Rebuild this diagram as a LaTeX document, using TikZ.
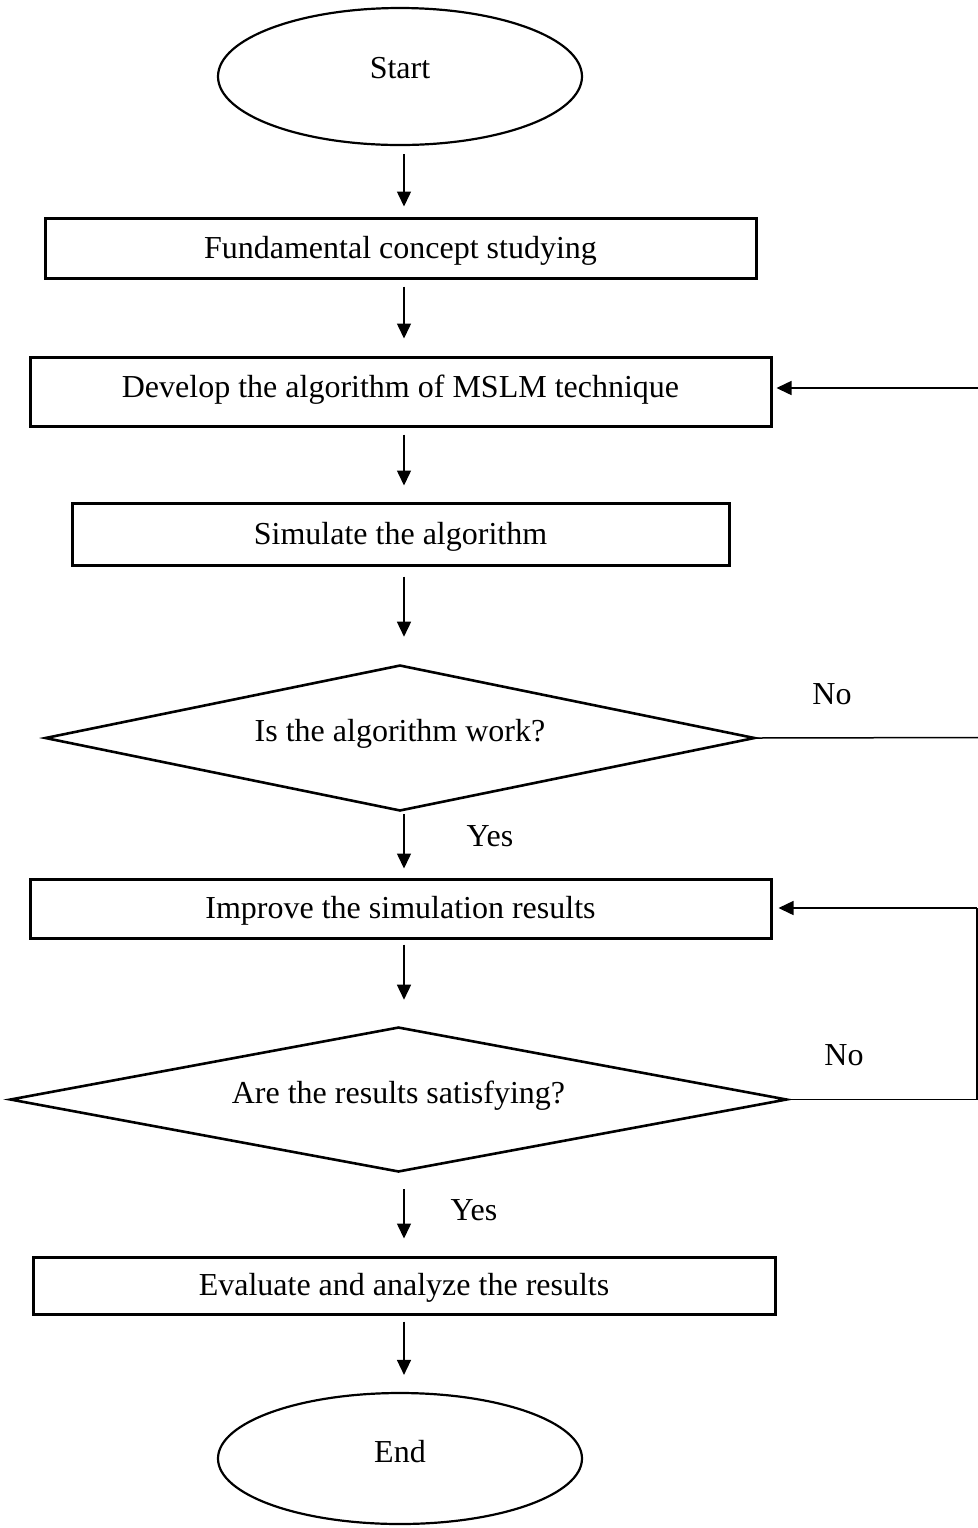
\documentclass[tikz,border=0pt]{standalone}
\usepackage{fontspec}
\setmainfont{Liberation Serif}
\usetikzlibrary{shapes.geometric,arrows.meta}

\begin{document}
\begin{tikzpicture}[x=0.5pt,y=-0.5pt,
  every node/.style={font=\fontsize{16pt}{19pt}\selectfont},
  fixedline/.style={text height=13pt,text depth=3pt},
  terminal/.style={ellipse,draw,line width=1.1pt,inner sep=0pt,
    minimum width=182pt,fixedline},
  stepbox/.style={rectangle,draw,line width=1.5pt,inner sep=0pt,fixedline},
  decision/.style={diamond,draw,line width=1.3pt,inner sep=0pt,aspect=5,fixedline},
  conn/.style={line width=0.75pt},
  arr/.style={conn,-{Triangle[length=7.5pt,width=7pt]}},
  lbl/.style={inner sep=0pt}]
\useasboundingbox (0,0) rectangle (978,1528);

% main column
\node[terminal,minimum height=68.5pt] (start) at (400,76.5) {\raisebox{4.25pt}{Start}};
\node[stepbox,minimum width=355.5pt,minimum height=30pt] (f1) at (400.5,248)
  {Fundamental concept studying};
\node[stepbox,minimum width=370.5pt,minimum height=34.5pt] (f2) at (400.5,391.5)
  {\raisebox{2pt}{Develop the algorithm of MSLM technique}};
\node[stepbox,minimum width=328.5pt,minimum height=31pt] (f3) at (400.5,534)
  {Simulate the algorithm};
\node[decision,minimum width=355pt,minimum height=73pt] (d1) at (400,738)
  {\raisebox{3.5pt}{Is the algorithm work?}};
\node[stepbox,minimum width=370.5pt,minimum height=29.5pt] (f4) at (400.5,908.5)
  {Improve the simulation results};
\node[decision,minimum width=388.5pt,minimum height=72.5pt] (d2) at (398.5,1099.5)
  {\raisebox{3.25pt}{Are the results satisfying?}};
\node[stepbox,minimum width=371pt,minimum height=28.5pt] (f5) at (404,1285.5)
  {Evaluate and analyze the results};
\node[terminal,minimum height=65.5pt] (end) at (400,1458.5) {\raisebox{3.25pt}{End}};

% branch labels
\node[lbl] (yes1) at (490,836) {Yes};
\node[lbl] (yes2) at (474,1210) {Yes};
\node[lbl] (no1) at (832,694) {No};
\node[lbl] (no2) at (844,1055) {No};

% the downward arrows all run on one vertical line
\coordinate (axis) at (404,0);
\draw[arr,shorten <=4pt,shorten >=5pt] (start.south -| axis) -- (f1.north -| axis);
\draw[arr,shorten <=3.5pt,shorten >=8.5pt] (f1.south -| axis) -- (f2.north -| axis);
\draw[arr,shorten <=3.5pt,shorten >=8pt] (f2.south -| axis) -- (f3.north -| axis);
\draw[arr,shorten <=5pt,shorten >=13.5pt] (f3.south -| axis) -- (d1.north -| axis);
\draw[arr,shorten <=1pt,shorten >=4.5pt] (d1.south -| axis) -- (f4.north -| axis);
\draw[arr,shorten <=2.5pt,shorten >=13pt] (f4.south -| axis) -- (d2.north -| axis);
\draw[arr,shorten <=8pt,shorten >=8.5pt] (d2.south -| axis) -- (f5.north -| axis);
\draw[arr,shorten <=3pt,shorten >=8.5pt] (f5.south -| axis) -- (end.north -| axis);

% "No" loop of the first decision, running off to the right
\coordinate (r1) at (979,737.5);
\coordinate (r2) at (979,388);
\draw[conn] (d1.east) -- (r1);
\draw[arr,shorten >=2pt] (r2) -- (r2 -| f2.east);

% "No" loop of the second decision
\coordinate (c2) at (977,1099.5);
\coordinate (c3) at (977,908);
\draw[conn] (d2.east) -- (c2) -- (c3);
\draw[arr,shorten >=3pt] (c3) -- (c3 -| f4.east);
\end{tikzpicture}
\end{document}
